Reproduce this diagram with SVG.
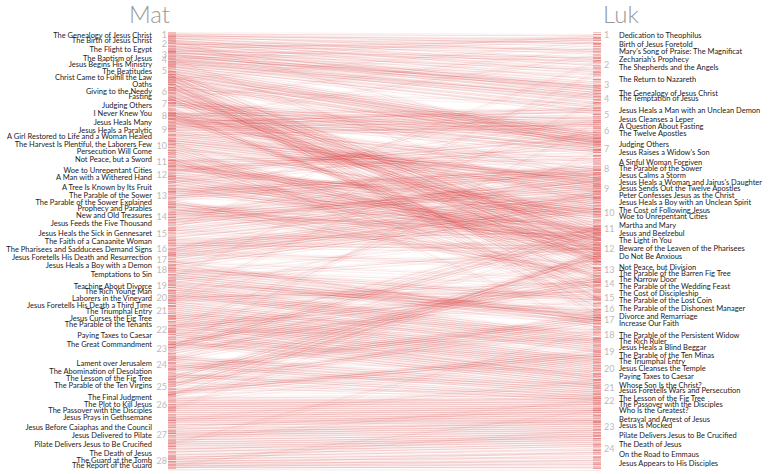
<svg xmlns="http://www.w3.org/2000/svg" width="772" height="474" viewBox="0 0 772 474">
<style>
.lbl{font-family:Lato,"Open Sans",sans-serif;font-size:7.5px;fill:#222}
.ml{text-anchor:end}
.num{font-family:Lato,"Open Sans",sans-serif;font-size:9px;fill:#bbb}
.mn{text-anchor:end}
.ttl{font-family:Lato,"Open Sans",sans-serif;font-weight:300;font-size:24px;fill:#999}
.c path{fill:none;stroke:#d62728;stroke-opacity:.17;stroke-width:1}
.c .n{stroke-opacity:.11}
.tk{fill:none;stroke:#d62728;stroke-width:8;stroke-opacity:.26}
</style>
<rect width="772" height="474" fill="#fff"/>
<g id="connectors" class="c">
<g id="links">
<path d="M168 34L601 36"/><path d="M168 35L601 44"/><path d="M168 36L601 52"/><path d="M168 38L601 60"/><path d="M168 40L601 66"/><path d="M168 41L601 72"/><path d="M168 43L601 80"/><path d="M168 44L601 50"/><path d="M168 46L601 88"/><path d="M168 48L601 93"/><path d="M168 49L601 40"/><path d="M168 51L601 58"/><path d="M168 53L601 70"/><path d="M168 55L601 95"/>
<path d="M168 52L601 84"/><path d="M168 54L601 88"/><path d="M168 56L601 90"/><path d="M168 57L601 86"/><path d="M168 59L601 98"/><path d="M168 60L601 100"/><path d="M168 61L601 104"/><path d="M168 63L601 96"/><path d="M168 64L601 108"/><path d="M168 66L601 112"/>
<path d="M168 66L601 134"/><path d="M168 68L601 136"/><path d="M168 70L601 138"/><path d="M168 71L601 140"/><path d="M168 73L601 142"/><path d="M168 75L601 135"/><path d="M168 77L601 144"/><path d="M168 79L601 139"/><path d="M168 82L601 146"/><path d="M168 85L601 143"/>
<path d="M168 70L601 246"/><path d="M168 72L601 254"/><path d="M168 74L601 300"/><path d="M168 76L601 262"/><path d="M168 78L601 310"/><path d="M168 80L601 226"/><path d="M168 81L601 316"/><path d="M168 83L601 268"/><path d="M168 84L601 240"/><path d="M168 86L601 292"/>
<path d="M168 86L601 228"/><path d="M168 88L601 231"/><path d="M168 89L601 236"/><path d="M168 91L601 252"/><path d="M168 92L601 256"/><path d="M168 93L601 240"/><path d="M168 95L601 260"/><path d="M168 96L601 244"/><path d="M168 98L601 250"/><path d="M168 100L601 262"/>
<path d="M168 100L601 140"/><path d="M168 102L601 142"/><path d="M168 104L601 146"/><path d="M168 106L601 150"/><path d="M168 108L601 232"/><path d="M168 109L601 236"/><path d="M168 110L601 278"/><path d="M168 112L601 280"/><path d="M168 113L601 148"/><path d="M168 114L601 271"/>
<path d="M168 114L601 110"/><path d="M168 115L601 118"/><path d="M168 116L601 152"/><path d="M168 117L601 170"/><path d="M168 118L601 176"/><path d="M168 119L601 200"/><path d="M168 120L601 124"/><path d="M168 122L601 112"/><path d="M168 123L601 184"/><path d="M168 124L601 108"/>
<path d="M168 125L601 118"/><path d="M168 127L601 122"/><path d="M168 128L601 126"/><path d="M168 130L601 130"/><path d="M168 131L601 184"/><path d="M168 133L601 182"/><path d="M168 135L601 186"/><path d="M168 136L601 124"/><path d="M168 138L601 178"/><path d="M168 140L601 180"/>
<path d="M168 140L601 188"/><path d="M168 142L601 190"/><path d="M168 144L601 192"/><path d="M168 145L601 216"/><path d="M168 147L601 212"/><path d="M168 148L601 252"/><path d="M168 150L601 256"/><path d="M168 152L601 258"/><path d="M168 154L601 262"/><path d="M168 156L601 284"/><path d="M168 158L601 290"/><path d="M168 160L601 246"/>
<path d="M168 161L601 150"/><path d="M168 162L601 156"/><path d="M168 164L601 214"/><path d="M168 165L601 218"/><path d="M168 166L601 210"/><path d="M168 167L601 160"/><path d="M168 169L601 220"/><path d="M168 170L601 204"/>
<path d="M168 171L601 134"/><path d="M168 172L601 138"/><path d="M168 174L601 230"/><path d="M168 176L601 232"/><path d="M168 177L601 236"/><path d="M168 179L601 240"/><path d="M168 181L601 244"/><path d="M168 183L601 142"/><path d="M168 185L601 230"/><path d="M168 187L601 246"/><path d="M168 189L601 238"/>
<path d="M168 190L601 168"/><path d="M168 192L601 170"/><path d="M168 194L601 166"/><path d="M168 196L601 172"/><path d="M168 198L601 174"/><path d="M168 200L601 270"/><path d="M168 202L601 276"/><path d="M168 204L601 240"/><path d="M168 206L601 248"/><path d="M168 208L601 274"/><path d="M168 210L601 238"/><path d="M168 212L601 170"/>
<path d="M168 213L601 182"/><path d="M168 215L601 186"/><path d="M168 217L601 188"/><path d="M168 220L601 190"/><path d="M168 223L601 178"/><path d="M168 226L601 174"/><path d="M168 229L601 194"/><path d="M168 232L601 180"/><path d="M168 235L601 192"/><path d="M168 238L601 196"/>
<path d="M168 241L601 232"/><path d="M168 243L601 246"/><path d="M168 245L601 250"/><path d="M168 247L601 194"/><path d="M168 249L601 196"/><path d="M168 251L601 198"/><path d="M168 253L601 200"/><path d="M168 255L601 206"/><path d="M168 257L601 202"/><path d="M168 259L601 204"/><path d="M168 261L601 322"/><path d="M168 263L601 208"/><path d="M168 265L601 318"/>
<path d="M168 266L601 210"/><path d="M168 268L601 298"/><path d="M168 270L601 300"/><path d="M168 272L601 314"/><path d="M168 274L601 318"/><path d="M168 276L601 320"/><path d="M168 278L601 324"/><path d="M168 280L601 248"/><path d="M168 282L601 312"/>
<path d="M168 283L601 316"/><path d="M168 285L601 336"/><path d="M168 287L601 338"/><path d="M168 289L601 340"/><path d="M168 291L601 342"/><path d="M168 293L601 344"/><path d="M168 295L601 346"/><path d="M168 297L601 292"/><path d="M168 299L601 282"/><path d="M168 301L601 348"/><path d="M168 303L601 350"/><path d="M168 305L601 352"/>
<path d="M168 307L601 358"/><path d="M168 309L601 360"/><path d="M168 311L601 362"/><path d="M168 313L601 364"/><path d="M168 315L601 366"/><path d="M168 317L601 368"/><path d="M168 319L601 370"/><path d="M168 321L601 372"/><path d="M168 323L601 374"/><path d="M168 325L601 378"/>
<path d="M168 326L601 286"/><path d="M168 328L601 290"/><path d="M168 330L601 376"/><path d="M168 332L601 378"/><path d="M168 334L601 380"/><path d="M168 336L601 382"/><path d="M168 338L601 226"/><path d="M168 340L601 384"/><path d="M168 342L601 386"/><path d="M168 344L601 276"/>
<path d="M168 346L601 228"/><path d="M168 348L601 232"/><path d="M168 350L601 234"/><path d="M168 352L601 278"/><path d="M168 354L601 280"/><path d="M168 356L601 386"/><path d="M168 358L601 388"/><path d="M168 360L601 282"/>
<path d="M168 362L601 390"/><path d="M168 364L601 392"/><path d="M168 366L601 394"/><path d="M168 368L601 316"/><path d="M168 370L601 318"/><path d="M168 372L601 320"/><path d="M168 374L601 396"/><path d="M168 376L601 398"/><path d="M168 378L601 254"/><path d="M168 380L601 258"/><path d="M168 382L601 400"/><path d="M168 384L601 322"/>
<path d="M168 386L601 256"/><path d="M168 388L601 262"/><path d="M168 390L601 354"/><path d="M168 392L601 356"/><path d="M168 394L601 350"/><path d="M168 396L601 252"/>
<path d="M168 398L601 396"/><path d="M168 400L601 400"/><path d="M168 402L601 402"/><path d="M168 404L601 404"/><path d="M168 406L601 406"/><path d="M168 408L601 408"/><path d="M168 410L601 410"/><path d="M168 412L601 412"/><path d="M168 414L601 414"/><path d="M168 416L601 416"/><path d="M168 418L601 418"/><path d="M168 420L601 420"/><path d="M168 422L601 421"/><path d="M168 425L601 422"/><path d="M168 427L601 410"/>
<path d="M168 429L601 424"/><path d="M168 431L601 426"/><path d="M168 433L601 428"/><path d="M168 435L601 430"/><path d="M168 437L601 432"/><path d="M168 440L601 434"/><path d="M168 442L601 436"/><path d="M168 444L601 438"/><path d="M168 446L601 440"/><path d="M168 449L601 442"/><path d="M168 452L601 444"/><path d="M168 455L601 446"/>
<path d="M168 457L601 450"/><path d="M168 459L601 454"/><path d="M168 461L601 458"/><path d="M168 463L601 462"/><path d="M168 465L601 465"/><path d="M168 467L601 468"/>
<path class="n" d="M168 36L601 40"/><path class="n" d="M168 45L601 38"/><path class="n" d="M168 60L601 36"/><path class="n" d="M168 80L601 42"/><path class="n" d="M168 100L601 48"/><path class="n" d="M168 120L601 55"/><path class="n" d="M168 50L601 62"/><path class="n" d="M168 62L601 75"/><path class="n" d="M168 90L601 104"/><path class="n" d="M168 105L601 120"/><path class="n" d="M168 130L601 160"/><path class="n" d="M168 150L601 176"/><path class="n" d="M168 175L601 196"/><path class="n" d="M168 195L601 214"/><path class="n" d="M168 220L601 222"/><path class="n" d="M168 240L601 228"/><path class="n" d="M168 255L601 262"/><path class="n" d="M168 270L601 286"/><path class="n" d="M168 290L601 306"/><path class="n" d="M168 300L601 310"/><path class="n" d="M168 315L601 330"/><path class="n" d="M168 330L601 340"/><path class="n" d="M168 345L601 356"/><path class="n" d="M168 360L601 372"/><path class="n" d="M168 375L601 384"/><path class="n" d="M168 390L601 392"/><path class="n" d="M168 405L601 398"/><path class="n" d="M168 420L601 404"/><path class="n" d="M168 435L601 420"/><path class="n" d="M168 450L601 436"/><path class="n" d="M168 465L601 452"/><path class="n" d="M168 468L601 460"/>
<path class="n" d="M168 40L601 150"/><path class="n" d="M168 58L601 210"/><path class="n" d="M168 76L601 180"/><path class="n" d="M168 98L601 300"/><path class="n" d="M168 118L601 262"/><path class="n" d="M168 140L601 330"/><path class="n" d="M168 160L601 300"/><path class="n" d="M168 180L601 120"/><path class="n" d="M168 200L601 90"/><path class="n" d="M168 222L601 130"/><path class="n" d="M168 250L601 160"/><path class="n" d="M168 275L601 230"/><path class="n" d="M168 300L601 190"/><path class="n" d="M168 320L601 260"/><path class="n" d="M168 340L601 300"/><path class="n" d="M168 360L601 240"/><path class="n" d="M168 380L601 330"/><path class="n" d="M168 400L601 360"/><path class="n" d="M168 420L601 380"/><path class="n" d="M168 440L601 400"/><path class="n" d="M168 460L601 430"/><path class="n" d="M168 330L601 150"/><path class="n" d="M168 300L601 100"/><path class="n" d="M168 280L601 70"/><path class="n" d="M168 230L601 60"/><path class="n" d="M168 350L601 120"/><path class="n" d="M168 395L601 310"/><path class="n" d="M168 410L601 250"/><path class="n" d="M168 445L601 330"/><path class="n" d="M168 466L601 410"/>
<path class="n" d="M168 250L601 270"/><path class="n" d="M168 262L601 280"/><path class="n" d="M168 285L601 300"/><path class="n" d="M168 300L601 320"/><path class="n" d="M168 230L601 250"/><path class="n" d="M168 215L601 230"/><path class="n" d="M168 205L601 225"/><path class="n" d="M168 185L601 210"/><path class="n" d="M168 330L601 330"/><path class="n" d="M168 345L601 340"/>
</g>
<use href="#links" transform="translate(0 2.5)" opacity="0.6"/>
<use href="#links" transform="translate(0 -1.5)" opacity="0.4"/>
<line class="tk" x1="172" y1="32" x2="172" y2="469" stroke-dasharray="1 1.4 2 0.8 1 2.2 1.5 1 0.8 1.7 1 1.2"/>
<line class="tk" x1="172" y1="33" x2="172" y2="469" stroke-dasharray="0.8 2.3 1.2 1.1 2 1.6 0.9 2.8"/>
<line class="tk" x1="597" y1="32" x2="597" y2="469" stroke-dasharray="1.2 1 0.8 2 1.6 1.1 1 2.4 2 0.9"/>
<line class="tk" x1="597" y1="34" x2="597" y2="469" stroke-dasharray="0.9 2.1 1.4 1.3 0.7 2.6 1.8 1"/>
</g>
<g id="title-mat"><text class="ttl" x="170" y="23" text-anchor="end">Mat</text></g>
<g id="title-luk"><text class="ttl" x="603" y="23">Luk</text></g>
<g id="mat-chapters" class="num mn">
<text x="167" y="38.2">1</text><text x="167" y="47.2">2</text><text x="167" y="57.5">3</text><text x="167" y="62.5">4</text><text x="167" y="73.9">5</text><text x="167" y="94.9">6</text><text x="167" y="107.2">7</text><text x="167" y="118.9">8</text><text x="167" y="132.5">9</text><text x="167" y="149.2">10</text><text x="167" y="164.9">11</text><text x="167" y="177.5">12</text><text x="167" y="198.9">13</text><text x="167" y="219.9">14</text><text x="167" y="236.5">15</text><text x="167" y="252.2">16</text><text x="167" y="263.2">17</text><text x="167" y="273.2">18</text><text x="167" y="288.9">19</text><text x="167" y="300.9">20</text><text x="167" y="314.2">21</text><text x="167" y="333.2">22</text><text x="167" y="351.5">23</text><text x="167" y="368.2">24</text><text x="167" y="389.9">25</text><text x="167" y="407.5">26</text><text x="167" y="438.2">27</text><text x="167" y="464.2">28</text>
</g>
<g id="luk-chapters" class="num">
<text x="604" y="38.2">1</text><text x="604" y="67.5">2</text><text x="604" y="87.5">3</text><text x="604" y="102.2">4</text><text x="604" y="118.2">5</text><text x="604" y="134.2">6</text><text x="604" y="151.5">7</text><text x="604" y="171.5">8</text><text x="604" y="191.5">9</text><text x="604" y="215.5">10</text><text x="604" y="232.2">11</text><text x="604" y="251.7">12</text><text x="604" y="273.2">13</text><text x="604" y="287.2">14</text><text x="604" y="300.9">15</text><text x="604" y="311.5">16</text><text x="604" y="323.2">17</text><text x="604" y="338.2">18</text><text x="604" y="354.9">19</text><text x="604" y="372.2">20</text><text x="604" y="390.5">21</text><text x="604" y="403.9">22</text><text x="604" y="429.9">23</text><text x="604" y="452.2">24</text>
</g>
<g id="mat-sections" class="lbl ml">
<g id="mat-01"><text x="152" y="37.7">The Genealogy of Jesus Christ</text></g>
<g id="mat-02"><text x="152" y="43">The Birth of Jesus Christ</text></g>
<g id="mat-03"><text x="152" y="52">The Flight to Egypt</text></g>
<g id="mat-04"><text x="152" y="61.4">The Baptism of Jesus</text></g>
<g id="mat-05"><text x="152" y="66.7">Jesus Begins His Ministry</text></g>
<g id="mat-06"><text x="152" y="74.4">The Beatitudes</text></g>
<g id="mat-07"><text x="152" y="80.4">Christ Came to Fulfill the Law</text></g>
<g id="mat-08"><text x="152" y="87">Oaths</text></g>
<g id="mat-09"><text x="152" y="94">Giving to the Needy</text></g>
<g id="mat-10"><text x="152" y="99.4">Fasting</text></g>
<g id="mat-11"><text x="152" y="107.7">Judging Others</text></g>
<g id="mat-12"><text x="152" y="116">I Never Knew You</text></g>
<g id="mat-13"><text x="152" y="124.7">Jesus Heals Many</text></g>
<g id="mat-14"><text x="152" y="133">Jesus Heals a Paralytic</text></g>
<g id="mat-15"><text x="152" y="139.4">A Girl Restored to Life and a Woman Healed</text></g>
<g id="mat-16"><text x="152" y="147">The Harvest Is Plentiful, the Laborers Few</text></g>
<g id="mat-17"><text x="152" y="154.4">Persecution Will Come</text></g>
<g id="mat-18"><text x="152" y="161.7">Not Peace, but a Sword</text></g>
<g id="mat-19"><text x="152" y="173">Woe to Unrepentant Cities</text></g>
<g id="mat-20"><text x="152" y="180">A Man with a Withered Hand</text></g>
<g id="mat-21"><text x="152" y="190.4">A Tree Is Known by Its Fruit</text></g>
<g id="mat-22"><text x="152" y="198">The Parable of the Sower</text></g>
<g id="mat-23"><text x="152" y="205">The Parable of the Sower Explained</text></g>
<g id="mat-24"><text x="152" y="211.4">Prophecy and Parables</text></g>
<g id="mat-25"><text x="152" y="217.7">New and Old Treasures</text></g>
<g id="mat-26"><text x="152" y="226.4">Jesus Feeds the Five Thousand</text></g>
<g id="mat-27"><text x="152" y="236.4">Jesus Heals the Sick in Gennesaret</text></g>
<g id="mat-28"><text x="152" y="244.4">The Faith of a Canaanite Woman</text></g>
<g id="mat-29"><text x="152" y="251.7">The Pharisees and Sadducees Demand Signs</text></g>
<g id="mat-30"><text x="152" y="260">Jesus Foretells His Death and Resurrection</text></g>
<g id="mat-31"><text x="152" y="268.4">Jesus Heals a Boy with a Demon</text></g>
<g id="mat-32"><text x="152" y="276.7">Temptations to Sin</text></g>
<g id="mat-33"><text x="152" y="288.7">Teaching About Divorce</text></g>
<g id="mat-34"><text x="152" y="294">The Rich Young Man</text></g>
<g id="mat-35"><text x="152" y="301">Laborers in the Vineyard</text></g>
<g id="mat-36"><text x="152" y="307.7">Jesus Foretells His Death a Third Time</text></g>
<g id="mat-37"><text x="152" y="314.4">The Triumphal Entry</text></g>
<g id="mat-38"><text x="152" y="321">Jesus Curses the Fig Tree</text></g>
<g id="mat-39"><text x="152" y="327">The Parable of the Tenants</text></g>
<g id="mat-40"><text x="152" y="338.4">Paying Taxes to Caesar</text></g>
<g id="mat-41"><text x="152" y="346.7">The Great Commandment</text></g>
<g id="mat-42"><text x="152" y="366">Lament over Jerusalem</text></g>
<g id="mat-43"><text x="152" y="373.7">The Abomination of Desolation</text></g>
<g id="mat-44"><text x="152" y="380.7">The Lesson of the Fig Tree</text></g>
<g id="mat-45"><text x="152" y="388.4">The Parable of the Ten Virgins</text></g>
<g id="mat-46"><text x="152" y="400.4">The Final Judgment</text></g>
<g id="mat-47"><text x="152" y="406.7">The Plot to Kill Jesus</text></g>
<g id="mat-48"><text x="152" y="413.4">The Passover with the Disciples</text></g>
<g id="mat-49"><text x="152" y="420.4">Jesus Prays in Gethsemane</text></g>
<g id="mat-50"><text x="152" y="429.7">Jesus Before Caiaphas and the Council</text></g>
<g id="mat-51"><text x="152" y="437.7">Jesus Delivered to Pilate</text></g>
<g id="mat-52"><text x="152" y="447">Pilate Delivers Jesus to Be Crucified</text></g>
<g id="mat-53"><text x="152" y="456">The Death of Jesus</text></g>
<g id="mat-54"><text x="152" y="462.7">The Guard at the Tomb</text></g>
<g id="mat-55"><text x="152" y="468.4">The Report of the Guard</text></g>
</g>
<g id="luk-sections" class="lbl">
<g id="luk-01"><text x="619" y="37.7">Dedication to Theophilus</text></g>
<g id="luk-02"><text x="619" y="46.7">Birth of Jesus Foretold</text></g>
<g id="luk-03"><text x="619" y="54.4">Mary's Song of Praise: The Magnificat</text></g>
<g id="luk-04"><text x="619" y="61.7">Zechariah's Prophecy</text></g>
<g id="luk-05"><text x="619" y="70">The Shepherds and the Angels</text></g>
<g id="luk-06"><text x="619" y="81.7">The Return to Nazareth</text></g>
<g id="luk-07"><text x="619" y="96">The Genealogy of Jesus Christ</text></g>
<g id="luk-08"><text x="619" y="101.4">The Temptation of Jesus</text></g>
<g id="luk-09"><text x="619" y="113.4">Jesus Heals a Man with an Unclean Demon</text></g>
<g id="luk-10"><text x="619" y="122">Jesus Cleanses a Leper</text></g>
<g id="luk-11"><text x="619" y="129.4">A Question About Fasting</text></g>
<g id="luk-12"><text x="619" y="136.4">The Twelve Apostles</text></g>
<g id="luk-13"><text x="619" y="146.7">Judging Others</text></g>
<g id="luk-14"><text x="619" y="155">Jesus Raises a Widow's Son</text></g>
<g id="luk-15"><text x="619" y="165">A Sinful Woman Forgiven</text></g>
<g id="luk-16"><text x="619" y="171">The Parable of the Sower</text></g>
<g id="luk-17"><text x="619" y="177.7">Jesus Calms a Storm</text></g>
<g id="luk-18"><text x="619" y="185">Jesus Heals a Woman and Jairus's Daughter</text></g>
<g id="luk-19"><text x="619" y="191">Jesus Sends Out the Twelve Apostles</text></g>
<g id="luk-20"><text x="619" y="197.7">Peter Confesses Jesus as the Christ</text></g>
<g id="luk-21"><text x="619" y="205">Jesus Heals a Boy with an Unclean Spirit</text></g>
<g id="luk-22"><text x="619" y="212.7">The Cost of Following Jesus</text></g>
<g id="luk-23"><text x="619" y="219.4">Woe to Unrepentant Cities</text></g>
<g id="luk-24"><text x="619" y="228.4">Martha and Mary</text></g>
<g id="luk-25"><text x="619" y="236">Jesus and Beelzebul</text></g>
<g id="luk-26"><text x="619" y="243.4">The Light in You</text></g>
<g id="luk-27"><text x="619" y="251.2">Beware of the Leaven of the Pharisees</text></g>
<g id="luk-28"><text x="619" y="259.4">Do Not Be Anxious</text></g>
<g id="luk-29"><text x="619" y="270">Not Peace, but Division</text></g>
<g id="luk-30"><text x="619" y="276">The Parable of the Barren Fig Tree</text></g>
<g id="luk-31"><text x="619" y="281.7">The Narrow Door</text></g>
<g id="luk-32"><text x="619" y="289.4">The Parable of the Wedding Feast</text></g>
<g id="luk-33"><text x="619" y="296">The Cost of Discipleship</text></g>
<g id="luk-34"><text x="619" y="302.7">The Parable of the Lost Coin</text></g>
<g id="luk-35"><text x="619" y="311">The Parable of the Dishonest Manager</text></g>
<g id="luk-36"><text x="619" y="318.7">Divorce and Remarriage</text></g>
<g id="luk-37"><text x="619" y="326">Increase Our Faith</text></g>
<g id="luk-38"><text x="619" y="337.7">The Parable of the Persistent Widow</text></g>
<g id="luk-39"><text x="619" y="343.7">The Rich Ruler</text></g>
<g id="luk-40"><text x="619" y="350.4">Jesus Heals a Blind Beggar</text></g>
<g id="luk-41"><text x="619" y="357.7">The Parable of the Ten Minas</text></g>
<g id="luk-42"><text x="619" y="364.4">The Triumphal Entry</text></g>
<g id="luk-43"><text x="619" y="371">Jesus Cleanses the Temple</text></g>
<g id="luk-44"><text x="619" y="379.4">Paying Taxes to Caesar</text></g>
<g id="luk-45"><text x="619" y="387.7">Whose Son Is the Christ?</text></g>
<g id="luk-46"><text x="619" y="393.4">Jesus Foretells Wars and Persecution</text></g>
<g id="luk-47"><text x="619" y="401">The Lesson of the Fig Tree</text></g>
<g id="luk-48"><text x="619" y="406.7">The Passover with the Disciples</text></g>
<g id="luk-49"><text x="619" y="412.7">Who Is the Greatest?</text></g>
<g id="luk-50"><text x="619" y="421.7">Betrayal and Arrest of Jesus</text></g>
<g id="luk-51"><text x="619" y="427.7">Jesus Is Mocked</text></g>
<g id="luk-52"><text x="619" y="437.7">Pilate Delivers Jesus to Be Crucified</text></g>
<g id="luk-53"><text x="619" y="447">The Death of Jesus</text></g>
<g id="luk-54"><text x="619" y="457">On the Road to Emmaus</text></g>
<g id="luk-55"><text x="619" y="466">Jesus Appears to His Disciples</text></g>
</g>
</svg>
